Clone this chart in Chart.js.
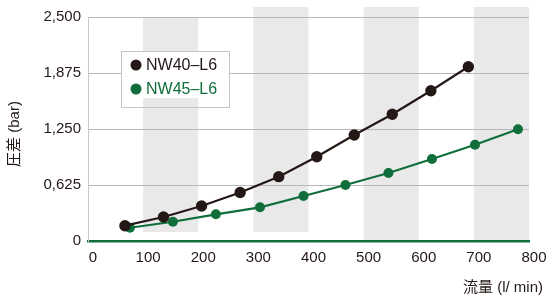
<!DOCTYPE html>
<html>
<head>
<meta charset="utf-8">
<script src="https://cdn.jsdelivr.net/npm/chart.js@4/dist/chart.umd.min.js"></script>
<style>
  html, body { margin: 0; padding: 0; background: #fff; }
  #wrap { width: 548px; height: 299px; }
</style>
</head>
<body>
<div id="wrap"><canvas id="chart"></canvas></div>
<script>
// flow (l/min) vs pressure drop (bar)
const nw40Flow = [67, 137, 206, 276, 346, 415, 483, 552, 622, 690];
const nw40Drop = [171, 268, 391, 541, 718, 941, 1183, 1414, 1677, 1945];
const nw45Flow = [76, 154, 232, 312, 391, 467, 545, 624, 702, 780];
const nw45Drop = [148, 215, 298, 376, 502, 625, 759, 915, 1075, 1247];
const seriesNames = ['NW40\u2013L6', 'NW45\u2013L6'];
const yTicks = [0, 625, 1250, 1875, 2500];
const yTickLabels = ['0', '0,625', '1,250', '1,875', '2,500'];
const xTicks = [0, 100, 200, 300, 400, 500, 600, 700, 800];
const bands = [[100, 200], [300, 400], [500, 600], [700, 800]];

const BLACK = '#231815';
const GREEN = '#0f6e3a';
const FONT = '"Liberation Sans", Arial, "Noto Sans CJK JP", sans-serif';

const bgPlugin = {
  id: 'bg',
  beforeDraw(chart) {
    const { ctx, chartArea, scales } = chart;
    ctx.save();
    ctx.fillStyle = '#e9e9e9';
    bands.forEach((b, i) => {
      const x1 = scales.x.getPixelForValue(b[0]);
      const x2 = scales.x.getPixelForValue(b[1]);
      const top = i === 0 ? chartArea.top : chartArea.top - 10;
      const bottom = i < 2 ? chartArea.bottom - 9 : chartArea.bottom;
      ctx.fillRect(x1, top, x2 - x1, bottom - top);
    });
    ctx.restore();
  },
  beforeDatasetsDraw(chart) {
    const { ctx, scales } = chart;
    // legend box
    const bx = 121, by = 51, bw = 108, bh = 56;
    ctx.save();
    ctx.fillStyle = '#fff';
    ctx.fillRect(bx, by, bw, bh);
    ctx.fillStyle = '#e9e9e9';
    const x1 = scales.x.getPixelForValue(bands[0][0]);
    const x2 = scales.x.getPixelForValue(bands[0][1]);
    ctx.fillRect(x1, by + 47, x2 - x1, bh - 47);
    ctx.strokeStyle = '#c4c4c4';
    ctx.lineWidth = 1;
    ctx.strokeRect(bx + 0.5, by + 0.5, bw, bh);
    const cols = [BLACK, GREEN];
    ctx.font = '16px ' + FONT;
    ctx.textBaseline = 'middle';
    seriesNames.forEach((name, i) => {
      const cy = 65 + i * 24;
      ctx.fillStyle = cols[i];
      ctx.beginPath();
      ctx.arc(136, cy, 5.5, 0, Math.PI * 2);
      ctx.fill();
      ctx.fillText(name, 146, cy + 1);
    });
    ctx.restore();
  },
  afterDraw(chart) {
    const { ctx } = chart;
    ctx.save();
    ctx.fillStyle = BLACK;
    ctx.font = '15px ' + FONT;
    ctx.textAlign = 'right';
    ctx.textBaseline = 'middle';
    ctx.fillText('流量 (l/ min)', 543, 288);
    ctx.translate(15, 134);
    ctx.rotate(-Math.PI / 2);
    ctx.textAlign = 'center';
    ctx.fillText('圧差 (bar)', 0, 0);
    ctx.restore();
  }
};

new Chart(document.getElementById('chart'), {
  type: 'line',
  data: {
    datasets: [
      {
        label: seriesNames[0],
        data: nw40Flow.map((x, i) => ({ x: x, y: nw40Drop[i] })),
        borderColor: BLACK,
        backgroundColor: BLACK,
        borderWidth: 2.2,
        pointRadius: 5.7,
        pointBorderWidth: 0,
        order: 1
      },
      {
        label: seriesNames[1],
        data: nw45Flow.map((x, i) => ({ x: x, y: nw45Drop[i] })),
        borderColor: GREEN,
        backgroundColor: GREEN,
        borderWidth: 2.2,
        pointRadius: 5,
        pointBorderWidth: 0,
        order: 2
      }
    ]
  },
  options: {
    responsive: true,
    maintainAspectRatio: false,
    animation: false,
    layout: { padding: { left: 0, top: 17, right: 19, bottom: 0 } },
    plugins: {
      legend: { display: false },
      tooltip: { enabled: false }
    },
    scales: {
      x: {
        type: 'linear',
        min: 0,
        max: 800,
        afterFit: s => { s.height = 58; s.paddingLeft = 0; s.paddingRight = 0; },
        afterBuildTicks: s => { s.ticks = xTicks.map(v => ({ value: v })); },
        grid: { display: false, drawTicks: false },
        border: { color: GREEN, width: 2.5 },
        ticks: {
          color: BLACK,
          font: { family: FONT, size: 15 },
          padding: 8,
          labelOffset: 5,
          maxRotation: 0
        }
      },
      y: {
        min: 0,
        max: 2500,
        afterFit: s => { s.width = 88; s.paddingTop = 0; s.paddingBottom = 0; },
        afterBuildTicks: s => { s.ticks = yTicks.map(v => ({ value: v })); },
        grid: { color: '#b8b8b8', lineWidth: 1, drawTicks: false },
        border: { color: '#c8c8c8', width: 1 },
        ticks: {
          color: BLACK,
          font: { family: FONT, size: 15 },
          padding: 7,
          callback: (v) => yTickLabels[yTicks.indexOf(v)]
        }
      }
    }
  },
  plugins: [bgPlugin]
});
</script>
</body>
</html>
